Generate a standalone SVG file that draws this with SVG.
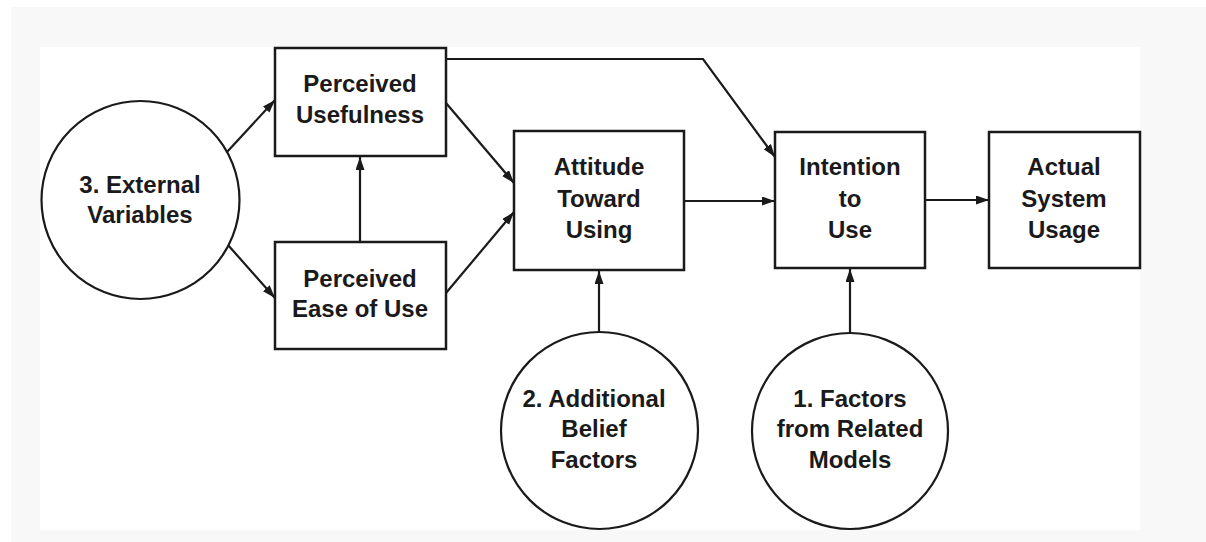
<svg xmlns="http://www.w3.org/2000/svg" width="1206" height="542" viewBox="0 0 1206 542">
<style>
.box{fill:#fff;stroke:#1a1a1a;stroke-width:2.5}
.circ{fill:#fff;stroke:#1a1a1a;stroke-width:2.2}
.lbl{font-family:"Liberation Sans",Arial,sans-serif;font-weight:bold;font-size:24px;fill:#1a1a1a;text-anchor:middle}
.edge{fill:none;stroke:#1a1a1a;stroke-width:2.2;marker-end:url(#arr)}
</style>
<defs>
<marker id="arr" markerUnits="userSpaceOnUse" markerWidth="14" markerHeight="10" refX="13" refY="4.5" orient="auto">
<path d="M0,0 L13,4.5 L0,9 Z" fill="#1a1a1a"/>
</marker>
</defs>
<rect x="11" y="7" width="1195" height="535" fill="#f8f8f8"/>
<rect x="40" y="47" width="1100" height="483" fill="#ffffff"/>

<g id="connectors">
<line class="edge" x1="227" y1="152" x2="275" y2="100"/>
<line class="edge" x1="228" y1="245" x2="275" y2="298"/>
<line class="edge" x1="360" y1="242" x2="360" y2="157"/>
<line class="edge" x1="446" y1="103" x2="514" y2="183"/>
<line class="edge" x1="446" y1="293" x2="514" y2="212"/>
<line class="edge" x1="684" y1="201" x2="775" y2="201"/>
<polyline class="edge" points="446,59 703,59 775,157"/>
<line class="edge" x1="925" y1="200" x2="989" y2="200"/>
<line class="edge" x1="599" y1="332" x2="599" y2="271"/>
<line class="edge" x1="850" y1="332" x2="850" y2="269"/>
</g>

<g id="external">
<circle class="circ" cx="140.5" cy="200" r="99"/>
<text class="lbl" x="140" y="193">3. External</text>
<text class="lbl" x="140" y="223">Variables</text>
</g>

<g id="usefulness">
<rect class="box" x="275" y="48" width="171" height="108"/>
<text class="lbl" x="360" y="92">Perceived</text>
<text class="lbl" x="360" y="123">Usefulness</text>
</g>

<g id="ease">
<rect class="box" x="275" y="242" width="171" height="107"/>
<text class="lbl" x="360" y="287">Perceived</text>
<text class="lbl" x="360" y="317">Ease of Use</text>
</g>

<g id="attitude">
<rect class="box" x="514" y="131" width="170" height="139"/>
<text class="lbl" x="599" y="175">Attitude</text>
<text class="lbl" x="599" y="207">Toward</text>
<text class="lbl" x="599" y="238">Using</text>
</g>

<g id="intention">
<rect class="box" x="775" y="132" width="150" height="136"/>
<text class="lbl" x="850" y="175">Intention</text>
<text class="lbl" x="850" y="207">to</text>
<text class="lbl" x="850" y="238">Use</text>
</g>

<g id="usage">
<rect class="box" x="989" y="132" width="151" height="136"/>
<text class="lbl" x="1064" y="175">Actual</text>
<text class="lbl" x="1064" y="207">System</text>
<text class="lbl" x="1064" y="238">Usage</text>
</g>

<g id="belief">
<circle class="circ" cx="599.5" cy="430.5" r="98.5"/>
<text class="lbl" x="594" y="407">2. Additional</text>
<text class="lbl" x="594" y="437">Belief</text>
<text class="lbl" x="594" y="468">Factors</text>
</g>

<g id="related">
<circle class="circ" cx="850" cy="431" r="98"/>
<text class="lbl" x="850" y="407">1. Factors</text>
<text class="lbl" x="850" y="437">from Related</text>
<text class="lbl" x="850" y="468">Models</text>
</g>
</svg>
